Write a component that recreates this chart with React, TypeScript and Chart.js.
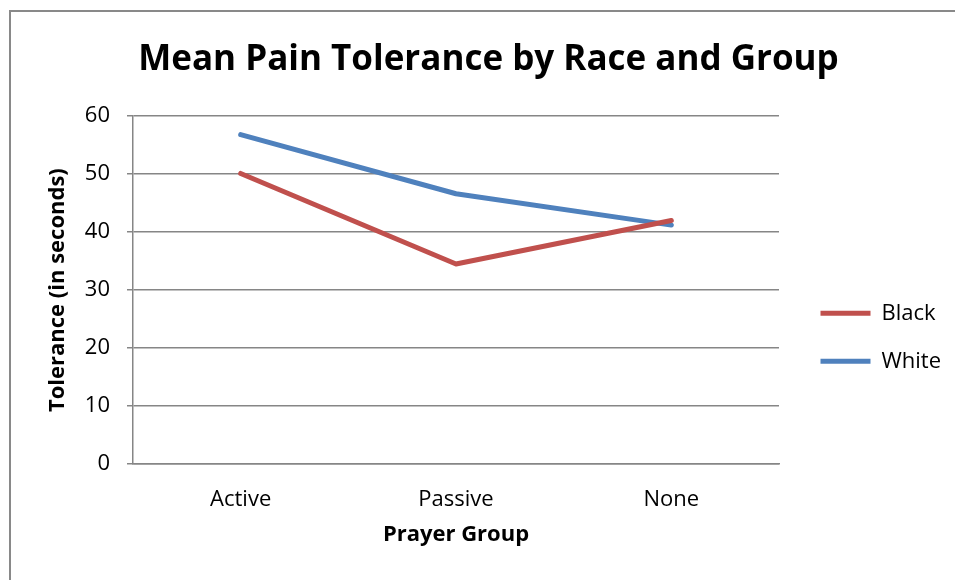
import { useEffect, useRef } from 'react';
import { Chart, registerables } from 'chart.js';

Chart.register(...registerables);

const categories = ['Active', 'Passive', 'None'];
const seriesLabels = ['Black', 'White'];
const blackValues = [50.1, 34.5, 42.0];
const whiteValues = [56.8, 46.6, 41.2];
const yTicks = [0, 10, 20, 30, 40, 50, 60];
const titleText = 'Mean Pain Tolerance by Race and Group';
const yTitleText = 'Tolerance (in seconds)';
const xTitleText = 'Prayer Group';

const FONT = "'Open Sans', sans-serif";
const GRID = '#868686';
const RED = '#C0504D';
const BLUE = '#4F81BD';

const legendNudge = {
  id: 'legendNudge',
  afterLayout(chart: any) {
    const lg = chart.legend;
    if (lg) {
      lg.left += 15.5;
      lg.right += 15.5;
    }
  },
};

export default function App() {
  const ref = useRef<HTMLCanvasElement | null>(null);

  useEffect(() => {
    if (!ref.current) return;
    const chart = new Chart(ref.current, {
      type: 'line',
      data: {
        labels: categories,
        datasets: [
          {
            label: seriesLabels[0],
            data: blackValues,
            borderColor: RED,
            backgroundColor: RED,
            borderWidth: 5,
            borderCapStyle: 'round',
            borderJoinStyle: 'round',
            pointRadius: 0,
            pointHoverRadius: 0,
            tension: 0,
          },
          {
            label: seriesLabels[1],
            data: whiteValues,
            borderColor: BLUE,
            backgroundColor: BLUE,
            borderWidth: 5,
            borderCapStyle: 'round',
            borderJoinStyle: 'round',
            pointRadius: 0,
            pointHoverRadius: 0,
            tension: 0,
          },
        ],
      },
      options: {
        responsive: false,
        animation: false,
        devicePixelRatio: 1,
        layout: { padding: { left: 48, right: 26, top: 0, bottom: 32.3 } },
        plugins: {
          tooltip: { enabled: false },
          title: {
            display: true,
            text: titleText,
            color: '#000',
            font: { family: FONT, size: 35, weight: 'bold', lineHeight: 1.2 },
            padding: { top: 39.3, bottom: 34.7 },
          },
          legend: {
            display: true,
            position: 'right',
            maxWidth: 150,
            title: {
              display: true,
              text: '',
              font: { family: FONT, size: 10, lineHeight: 1 },
              padding: { top: 117, bottom: 0 },
            },
            labels: {
              usePointStyle: true,
              pointStyle: 'line',
              pointStyleWidth: 50,
              padding: 26,
              color: '#000',
              font: { family: FONT, size: 22 },
            },
          },
        },
        scales: {
          x: {
            type: 'category',
            offset: true,
            grid: { display: false },
            border: { display: true, color: GRID, width: 1.5 },
            ticks: {
              color: '#000',
              padding: 14.8,
              font: { family: FONT, size: 22, lineHeight: 1.2 },
              maxRotation: 0,
            },
            title: {
              display: true,
              text: xTitleText,
              color: '#000',
              font: { family: FONT, size: 22, weight: 'bold', lineHeight: 1.2 },
              padding: { top: -6.9, bottom: 0 },
            },
          },
          y: {
            min: yTicks[0],
            max: yTicks[yTicks.length - 1],
            afterFit: (scale: any) => {
              scale.width = 85;
            },
            grid: { color: GRID, lineWidth: 1.5, tickLength: 6, drawTicks: true },
            border: { display: true, color: GRID, width: 1.5 },
            ticks: {
              stepSize: yTicks[1] - yTicks[0],
              color: '#000',
              padding: 17,
              font: { family: FONT, size: 22, lineHeight: 1.2 },
            },
            title: {
              display: true,
              text: yTitleText,
              color: '#000',
              font: { family: FONT, size: 22, weight: 'bold', lineHeight: 1 },
              padding: { top: -1, bottom: 0 },
            },
          },
        },
      },
      plugins: [legendNudge],
    });
    return () => chart.destroy();
  }, []);

  return (
    <div
      style={{
        position: 'absolute',
        left: 0,
        top: 0,
        width: 955,
        height: 580,
        overflow: 'hidden',
        background: '#fff',
      }}
    >
      <div
        style={{
          position: 'absolute',
          left: 9,
          top: 10,
          width: 946,
          height: 570,
          boxSizing: 'border-box',
          borderLeft: '2px solid #898989',
          borderTop: '2px solid #898989',
        }}
      />
      <canvas
        ref={ref}
        width={955}
        height={580}
        style={{ position: 'absolute', left: 0, top: 0, width: 955, height: 580 }}
      />
    </div>
  );
}
